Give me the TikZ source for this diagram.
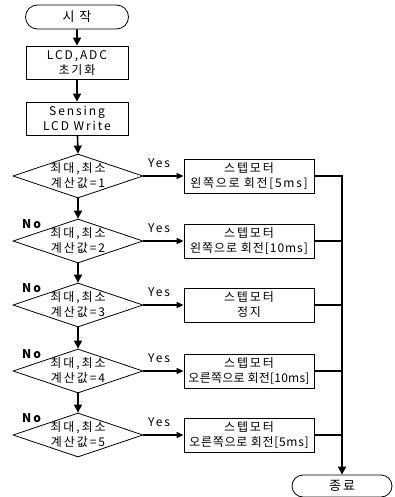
\documentclass[tikz,border=0pt]{standalone}
\usepackage{fontspec}
\setmainfont{Noto Sans CJK KR}[LetterSpace=16]
\usetikzlibrary{shapes.geometric,shapes.misc,arrows.meta}
\begin{document}
\begin{tikzpicture}[x=1pt,y=-1pt,
  font=\fontsize{12}{15}\selectfont,
  box/.style={draw, line width=0.8pt, minimum width=102pt, minimum height=33pt, inner sep=0pt, align=center},
  term/.style={draw, rounded rectangle, minimum width=103pt, minimum height=24pt, inner sep=0pt, line width=0.8pt, font=\fontsize{13}{15}\selectfont},
  dec/.style={draw, diamond, minimum width=130pt, minimum height=44pt, inner sep=0pt, line width=0.8pt},
  dectext/.style={align=center, inner sep=0pt},
  act/.style={box, minimum width=130pt, minimum height=34pt},
  flow/.style={line width=1.6pt, -{Triangle[length=8pt,width=8pt]}},
  yesarrow/.style={line width=1.3pt, -{Triangle[length=7pt,width=6pt]}},
  merge/.style={line width=1.6pt},
  lbl/.style={inner sep=0pt, font=\fontsize{12}{14}\selectfont},
  nolbl/.style={inner sep=0pt, font=\fontsize{12}{14}\selectfont\bfseries}
]
\useasboundingbox (0,0) rectangle (394,497);

\node[term] (start) at (77,17) {시 작};
\node[box] (init) at (77,62.5) {LCD,ADC\\초기화};
\node[box] (sense) at (77,118.5) {Sensing\\LCD Write};

\foreach \i/\y/\t/\ls in {1/176/{왼쪽으로 회전[5ms]}/14, 2/241/{왼쪽으로 회전[10ms]}/8, 3/305/{정지}/16, 4/371/{오른쪽으로 회전[10ms]}/2, 5/435/{오른쪽으로 회전[5ms]}/6} {
  \node[dec] (d\i) at (78,\y) {};
  \node[dectext] (dt\i) at (d\i) {최대,최소\\계산값=\i};
  \node[act] (b\i) at (249,\y) {스텝모터\\{\addfontfeature{LetterSpace=\ls}\t}};
  \node[lbl] (yes\i) at (159,\y-13) {Yes};
  \draw[yesarrow] (d\i.east) -- (b\i.west);
}

\node[term, minimum width=100pt, minimum height=22pt] (end) at (342,486) {종료};

\draw[flow] (start) -- (init);
\draw[flow] (init) -- (sense);
\draw[flow] (sense) -- (d1.north);
\foreach \a/\b in {1/2,2/3,3/4,4/5} {
  \draw[flow] (d\a.south) -- (d\b.north);
  \node[nolbl] (no\b) at (d\b.west) [xshift=19pt, yshift=17pt] {No};
}

\draw[merge, -{Triangle[length=8pt,width=8pt]}] (b1.east) -| (end.north);
\foreach \i in {2,3,4,5} {
  \draw[merge] (b\i.east) -- (b\i.east -| end.north);
}
\end{tikzpicture}
\end{document}
